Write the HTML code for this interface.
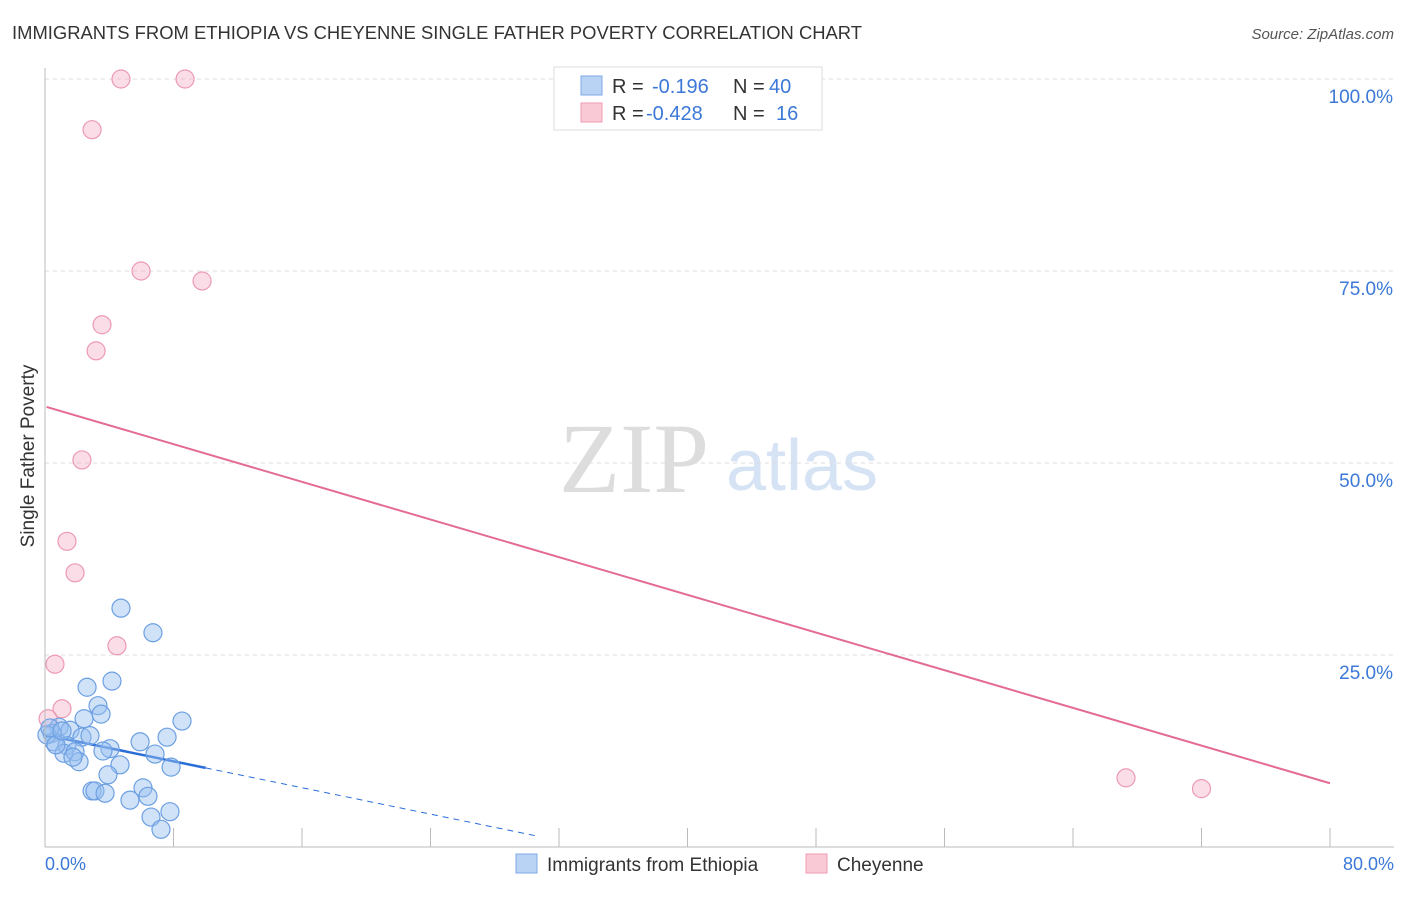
<!DOCTYPE html>
<html><head><meta charset="utf-8"><style>
body{margin:0;background:#fff;font-family:"Liberation Sans",sans-serif;}
svg text{font-family:"Liberation Sans",sans-serif;}
</style></head><body>
<svg id="chart" width="1406" height="892" xmlns="http://www.w3.org/2000/svg">
<text x="12" y="39" font-size="18" fill="#333" textLength="850" lengthAdjust="spacingAndGlyphs">IMMIGRANTS FROM ETHIOPIA VS CHEYENNE SINGLE FATHER POVERTY CORRELATION CHART</text>
<text x="1394" y="39" font-size="15" fill="#555" font-style="italic" text-anchor="end">Source: ZipAtlas.com</text>
<text x="634" y="492" font-size="100" fill="#ddd" font-family="Liberation Serif" text-anchor="middle" style="font-family:'Liberation Serif',serif">ZIP</text>
<text x="802" y="490" font-size="72" fill="#d5e3f5" text-anchor="middle">atlas</text>
<text transform="translate(34,456) rotate(-90)" font-size="19" fill="#333" text-anchor="middle">Single Father Poverty</text>
<g id="grid"></g><g id="ticks"></g><g id="lines"></g><g id="pts"></g>
<line x1="45" y1="68" x2="45" y2="847" stroke="#bbb"/>
<line x1="45" y1="847" x2="1394" y2="847" stroke="#bbb"/>
<text x="45" y="870" font-size="18" fill="#3b78d8">0.0%</text>
<text x="1394" y="870" font-size="18" fill="#3b78d8" text-anchor="end">80.0%</text>
<g>
<rect x="554" y="67" width="268" height="63" fill="#fff" stroke="#ddd"/>
<rect x="581" y="76" width="21" height="19" fill="#b9d3f5" stroke="#7fa9e6"/>
<rect x="581" y="103" width="21" height="19" fill="#f9c9d6" stroke="#ee9ab2"/>
<text x="612" y="93" font-size="20" fill="#333">R = </text><text x="652" y="93" font-size="20" fill="#3b78d8">-0.196</text>
<text x="733" y="93" font-size="20" fill="#333">N = </text><text x="769" y="93" font-size="20" fill="#3b78d8">40</text>
<text x="612" y="120" font-size="20" fill="#333">R = </text><text x="646" y="120" font-size="20" fill="#3b78d8">-0.428</text>
<text x="733" y="120" font-size="20" fill="#333">N = </text><text x="776" y="120" font-size="20" fill="#3b78d8">16</text>
</g>
<g>
<rect x="516" y="854" width="21" height="19" fill="#b9d3f5" stroke="#7fa9e6"/>
<text x="547" y="871" font-size="19" fill="#333">Immigrants from Ethiopia</text>
<rect x="806" y="854" width="21" height="19" fill="#f9c9d6" stroke="#ee9ab2"/>
<text x="837" y="871" font-size="19" fill="#333">Cheyenne</text>
</g>
</svg>
<script>
const yTicks=[100,75,50,25];
const yTickLabels=["100.0%","75.0%","50.0%","25.0%"];
const xTickVals=[0,8,16,24,32,40,48,56,64,72,80];
const blueX=[4.73,6.72,4.17,2.62,3.30,3.49,2.43,8.53,0.87,0.44,0.56,1.56,2.30,2.80,7.60,5.92,4.05,3.61,1.37,1.18,1.87,2.12,6.85,4.67,7.85,3.92,6.10,2.93,3.11,3.74,5.29,6.41,6.60,7.78,7.22,0.12,0.31,1.74,0.68,1.06];
const blueY=[31.1,27.9,21.6,20.8,18.4,17.3,16.7,16.4,15.6,14.8,13.7,15.2,14.3,14.5,14.3,13.7,12.8,12.5,13.2,12.2,12.4,11.1,12.1,10.7,10.4,9.4,7.7,7.3,7.3,7.0,6.1,6.6,3.9,4.6,2.3,14.6,15.5,11.7,13.3,15.1];
const pinkX=[4.73,8.72,2.93,5.98,9.78,3.55,3.18,2.30,1.37,1.87,4.48,0.62,1.06,0.19,67.3,72.0];
const pinkY=[100,100,93.4,75,73.7,68,64.6,50.4,39.8,35.7,26.2,23.8,18,16.7,9.0,7.6];
const blueTrend=[14.6,-0.43];
const pinkTrend=[57.3,-0.6125];
const NS="http://www.w3.org/2000/svg";
const sx=v=>45+v*1285/80, sy=v=>847-v*7.68;
function mk(tag,attrs,parent){const e=document.createElementNS(NS,tag);for(const k in attrs)e.setAttribute(k,attrs[k]);document.getElementById(parent).appendChild(e);return e;}
yTicks.forEach((t,i)=>{
  const l=mk('line',{x1:45,x2:1394,y1:sy(t),y2:sy(t),stroke:'#ddd','stroke-dasharray':'4,4'},'grid');
  
  
  const tx=mk('text',{x:1393,y:sy(t)+24,'font-size':19,fill:'#3b78d8','text-anchor':'end'},'grid');
  tx.textContent=yTickLabels[i];
  
  
});
xTickVals.forEach(v=>{
  const l=mk('line',{x1:sx(v),x2:sx(v),y1:828,y2:847,stroke:'#bbb'},'ticks');
  
  
});
let l=mk('line',{x1:sx(0),y1:sy(blueTrend[0]),x2:sx(10),y2:sy(blueTrend[0]+blueTrend[1]*10),stroke:'#2a6ed8','stroke-width':2.5},'lines');


l=mk('line',{x1:sx(10),y1:sy(blueTrend[0]+blueTrend[1]*10),x2:sx(30.8),y2:sy(blueTrend[0]+blueTrend[1]*30.8),stroke:'#2a6ed8','stroke-width':1,'stroke-dasharray':'6,5'},'lines');


l=mk('line',{x1:sx(0.1),y1:sy(pinkTrend[0]),x2:sx(80),y2:sy(pinkTrend[0]+pinkTrend[1]*80),stroke:'#e36b96','stroke-width':2},'lines');


pinkX.forEach((x,i)=>{
  const c=mk('circle',{cx:sx(x),cy:sy(pinkY[i]),r:9,fill:'rgba(245,170,195,0.4)',stroke:'#ec9ab4','stroke-width':1.2},'pts');
  
  
});
blueX.forEach((x,i)=>{
  const c=mk('circle',{cx:sx(x),cy:sy(blueY[i]),r:9,fill:'rgba(150,190,240,0.45)',stroke:'#6c9fe2','stroke-width':1.2},'pts');
  
  
});
</script>
</body></html>
